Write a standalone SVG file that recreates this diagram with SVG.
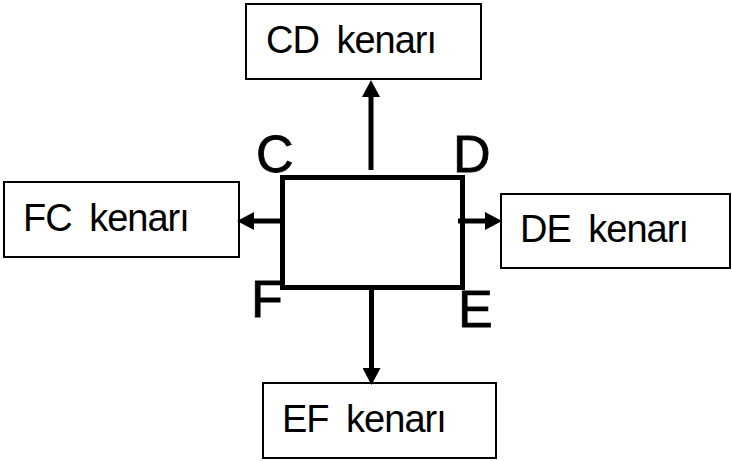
<svg xmlns="http://www.w3.org/2000/svg" width="732" height="461" viewBox="0 0 732 461">
<style>
.box{fill:#fff;stroke:#000;stroke-width:2}
.lbl{font-family:"Liberation Sans",Arial,sans-serif;font-size:38px;fill:#000;word-spacing:8px;letter-spacing:-1px}
.corner{font-family:"Liberation Sans",Arial,sans-serif;font-size:52px;fill:#000;stroke:#000;stroke-width:0.8}
.conn{stroke:#000;stroke-width:5;fill:none}
</style>
<defs>
<marker id="ah" viewBox="0 0 17 18" markerWidth="17" markerHeight="18" refX="0" refY="9" orient="auto" markerUnits="userSpaceOnUse">
<path d="M0,0 L17,9 L0,18 Z" fill="#000"/>
</marker>
</defs>
<rect width="732" height="461" fill="#fff"/>
<g id="node-cd"><rect class="box" x="246" y="4" width="235" height="75"/><text class="lbl" x="266" y="53">CD kenarı</text></g>
<g id="node-fc"><rect class="box" x="4" y="182" width="235" height="75"/><text class="lbl" x="23" y="231">FC kenarı</text></g>
<g id="node-de"><rect class="box" x="501" y="194" width="229" height="74"/><text class="lbl" x="520" y="241.5">DE kenarı</text></g>
<g id="node-ef"><rect class="box" x="263" y="383" width="233" height="75"/><text class="lbl" x="282" y="431.5">EF kenarı</text></g>
<g id="node-rect">
<rect x="282.5" y="177.5" width="180" height="110" fill="none" stroke="#000" stroke-width="5"/>
<text class="corner" x="256" y="172">C</text>
<text class="corner" x="453" y="172">D</text>
<text class="corner" x="251" y="317">F</text>
<text class="corner" x="458" y="327">E</text>
</g>
<g id="connectors">
<line class="conn" x1="371" y1="170" x2="371" y2="97" marker-end="url(#ah)"/>
<line class="conn" x1="282" y1="221" x2="254" y2="221" marker-end="url(#ah)"/>
<line class="conn" x1="458" y1="221" x2="485" y2="221" marker-end="url(#ah)"/>
<line class="conn" x1="371.5" y1="288" x2="371.5" y2="368" marker-end="url(#ah)"/>
</g>
</svg>
